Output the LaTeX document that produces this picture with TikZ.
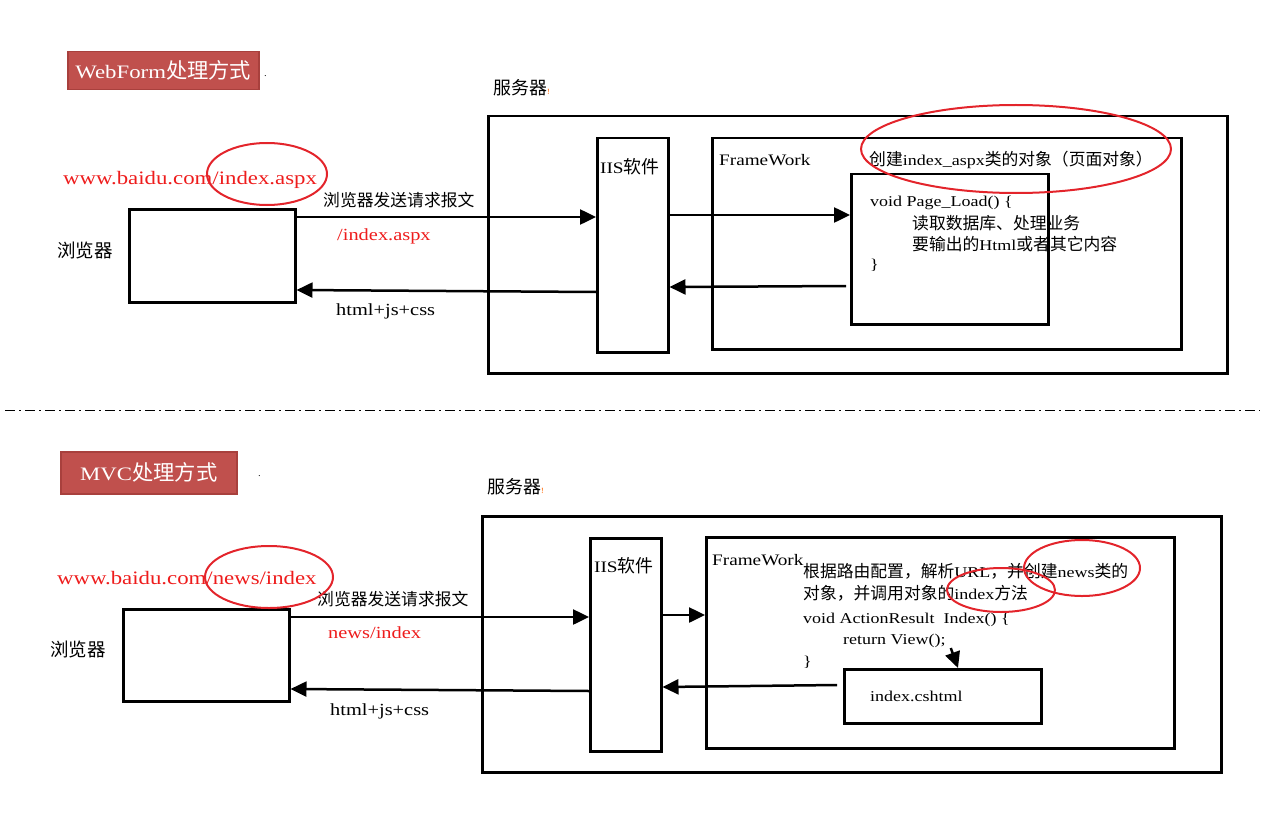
\documentclass[tikz,border=0pt]{standalone}
\usepackage{fontspec}
\setmainfont[FakeStretch=1.2]{Liberation Serif}
\newfontfamily\cjk[Scale=1.12]{Noto Sans CJK SC}
\usepackage{xcolor}
\usepackage{tikz}
\usetikzlibrary{arrows.meta,positioning}

\definecolor{titlered}{HTML}{C0504D}
\definecolor{titleedge}{HTML}{A8403D}
\definecolor{ringred}{HTML}{E3242B}
\definecolor{urlred}{HTML}{EE1C1C}
\newcommand\fsz[1]{\fontsize{#1pt}{#1pt}\selectfont}

\begin{document}
\begin{tikzpicture}[x=1pt, y=-1pt,
  box/.style={draw, line width=2.5pt, inner sep=0pt, anchor=north west},
  titlebox/.style={fill=titlered, draw=titleedge, line width=1.5pt, text=white, inner sep=0pt, anchor=north west, font=\fsz{19}},
  lbl/.style={inner sep=0pt, anchor=west, font=\fsz{15}},
  urltxt/.style={lbl, text=urlred, font=\fsz{17}},
  ring/.style={draw=ringred, line width=2pt},
  link/.style={line width=2.5pt, -{Triangle[length=16pt,width=15pt]}},
  sepline/.style={line width=1pt, dash pattern=on 10pt off 4pt on 2pt off 4pt}]

\useasboundingbox (0,0) rectangle (1265,821);

% WebForm part
\node[titlebox, minimum width=191pt, minimum height=38pt] (wfTitle) at (67,51) {WebForm{\cjk 处理方式}};
\node[lbl, font=\fsz{9}] (wfDot) at (264,76) {.};
\node[lbl, font=\fsz{16}] (wfSrvLbl) at (493,88) {{\cjk 服务器}\textcolor{orange!80!red}{\fsz{8}!}};

\node[box, minimum width=739pt, minimum height=257pt] (wfSrv) at (487,115) {};
\node[box, minimum width=71pt, minimum height=214pt] (wfIIS) at (596,137) {};
\node[lbl, font=\fsz{16}] (wfIISLbl) at (600,167) {IIS{\cjk 软件}};
\node[box, minimum width=469pt, minimum height=211pt] (wfFw) at (711,137) {};
\node[lbl, font=\fsz{16}] (wfFwLbl) at (719,160) {FrameWork};
\node[box, minimum width=197pt, minimum height=150pt] (wfPage) at (850,173) {};
\node[lbl] (wfNew) at (869,160) {{\cjk 创建}index\_aspx{\cjk 类的对象（页面对象）}};

% code in the page object
\node[lbl] (wfCode1) at (870,203) {void Page\_Load() \{};
\node[lbl] (wfCode2) at (912,223) {\cjk 读取数据库、处理业务};
\node[lbl] (wfCode3) at (912,244) {{\cjk 要输出的}Html{\cjk 或者其它内容}};
\node[lbl] (wfCode4) at (870,265) {\}};

\node[box, minimum width=166pt, minimum height=93pt] (wfBrw) at (128,208) {};
\node[lbl, font=\fsz{16.5}] (wfBrwLbl) at (57,250) {\cjk 浏览器};
\node[urltxt, font=\fsz{19}] (wfUrl) at (63,180) {www.baidu.com/index.aspx};
\node[lbl] (wfReq) at (323,200) {\cjk 浏览器发送请求报文};
\node[urltxt] (wfPath) at (337,236) {/index.aspx};
\node[lbl, font=\fsz{17}] (wfResp) at (336,311) {html+js+css};

% request and response
\draw[link] (wfBrw.east |- 0,217) -- (wfIIS.west |- 0,217);
\draw[link] (wfIIS.east |- 0,215) -- (wfPage.west |- 0,215);
\draw[link] ([xshift=-4pt]wfPage.west |- 0,286) -- (wfIIS.east |- 0,287);
\draw[link] (wfIIS.west |- 0,292) -- (wfBrw.east |- 0,290);

% red marks
\draw[ring] (1016,149) ellipse [x radius=155pt, y radius=44pt];
\draw[ring] (267,174) ellipse [x radius=60pt, y radius=31pt];

% separator
\draw[sepline] (5,410) -- (1260,410);

% MVC part
\node[titlebox, minimum width=176pt, minimum height=42pt] (mvTitle) at (60,451) {MVC{\cjk 处理方式}};
\node[lbl, font=\fsz{9}] (mvDot) at (258,476) {.};
\node[lbl, font=\fsz{16}] (mvSrvLbl) at (487,487) {{\cjk 服务器}\textcolor{orange!80!red}{\fsz{8}!}};

\node[box, minimum width=739pt, minimum height=256pt] (mvSrv) at (481,515) {};
\node[box, minimum width=71pt, minimum height=213pt] (mvIIS) at (589,537) {};
\node[lbl, font=\fsz{16}] (mvIISLbl) at (594,566) {IIS{\cjk 软件}};
\node[box, minimum width=468pt, minimum height=211pt] (mvFw) at (705,536) {};
\node[lbl, font=\fsz{16}] (mvFwLbl) at (712,560) {FrameWork};
\node[box, minimum width=197pt, minimum height=54pt] (mvView) at (843,668) {};
\node[lbl] (mvViewLbl) at (870,696) {index.cshtml};

% code in the controller
\node[lbl] (mvCode1) at (803,571) {{\cjk 根据路由配置，解析}URL{\cjk ，并创建}news{\cjk 类的}};
\node[lbl] (mvCode2) at (803,593) {{\cjk 对象，并调用对象的}index{\cjk 方法}};
\node[lbl] (mvCode3) at (803,620) {void ActionResult\ \ Index() \{};
\node[lbl] (mvRet) at (843,641) {return View();};
\node[lbl] (mvCode5) at (803,662) {\}};

\node[box, minimum width=166pt, minimum height=92pt] (mvBrw) at (122,608) {};
\node[lbl, font=\fsz{16.5}] (mvBrwLbl) at (50,649) {\cjk 浏览器};
\node[urltxt, font=\fsz{19}] (mvUrl) at (57,578) {www.baidu.com/news/index};
\node[lbl] (mvReq) at (317,599) {\cjk 浏览器发送请求报文};
\node[urltxt] (mvPath) at (328,633) {news/index};
\node[lbl, font=\fsz{17}] (mvResp) at (330,711) {html+js+css};

% request and response
\draw[link] (mvBrw.east |- 0,617) -- (mvIIS.west |- 0,617);
\draw[link] (mvIIS.east |- 0,615) -- (mvFw.west |- 0,615);
\draw[link] ([xshift=5pt]mvRet.south east) -- (mvView.north -| 958,0);
\draw[link] ([xshift=-6pt]mvView.west |- 0,685) -- (mvIIS.east |- 0,687);
\draw[link] (mvIIS.west |- 0,691) -- (mvBrw.east |- 0,689);

% red marks
\draw[ring] (269,577) ellipse [x radius=64pt, y radius=31pt];
\draw[ring] (1082,568) ellipse [x radius=58pt, y radius=28pt];
\draw[ring] (1001,590) ellipse [x radius=54pt, y radius=22pt];

\end{tikzpicture}
\end{document}
